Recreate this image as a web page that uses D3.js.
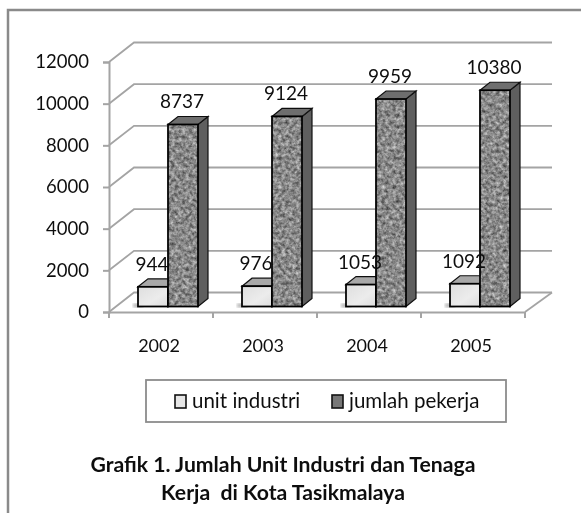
<!DOCTYPE html>
<html>
<head>
<meta charset="utf-8">
<script src="https://cdn.jsdelivr.net/npm/d3@7"></script>
<style>
html, body { margin: 0; padding: 0; background: #fff; }
svg { display: block; }
text { font-family: Lato, "Open Sans", sans-serif; fill: #111; }
</style>
</head>
<body>
<script>
var width = 581;
var height = 513;

// data
var years = ['2002', '2003', '2004', '2005'];
var unitIndustri = [944, 976, 1053, 1092];
var jumlahPekerja = [8737, 9124, 9959, 10380];
var yTicks = [0, 2000, 4000, 6000, 8000, 10000, 12000];
var seriesNames = ['unit industri', 'jumlah pekerja'];
var titleLines = ['Grafik 1. Jumlah Unit Industri dan Tenaga', 'Kerja  di Kota Tasikmalaya'];

var svg = d3.select('body').append('svg')
	.attr('width', width)
	.attr('height', height);

var defs = svg.append('defs');

// slight softening, the original is a blurry scan
defs.append('filter').attr('id', 'soft')
	.attr('x', 0).attr('y', 0).attr('width', 1).attr('height', 1)
	.append('feGaussianBlur').attr('stdDeviation', 0.4);

// granite texture of the dark bars
var granite = defs.append('filter').attr('id', 'granite')
	.attr('x', 0).attr('y', 0).attr('width', 1).attr('height', 1)
	.attr('color-interpolation-filters', 'sRGB');
granite.append('feTurbulence')
	.attr('type', 'fractalNoise')
	.attr('baseFrequency', 0.28)
	.attr('numOctaves', 3)
	.attr('seed', 7)
	.attr('result', 'noise');
granite.append('feColorMatrix')
	.attr('in', 'noise')
	.attr('type', 'matrix')
	.attr('values', '0.75 0 0 0 0.16  0.75 0 0 0 0.16  0.75 0 0 0 0.16  0 0 0 0 1')
	.attr('result', 'grey');
granite.append('feComposite')
	.attr('in', 'grey')
	.attr('in2', 'SourceGraphic')
	.attr('operator', 'in');

var lightFill = defs.append('linearGradient').attr('id', 'lightFill')
	.attr('x1', 0).attr('y1', 0).attr('x2', 1).attr('y2', 1);
lightFill.append('stop').attr('offset', 0).attr('stop-color', '#dedede');
lightFill.append('stop').attr('offset', 0.6).attr('stop-color', '#ececec');
lightFill.append('stop').attr('offset', 1).attr('stop-color', '#dcdcdc');

defs.append('filter').attr('id', 'shadowBlur')
	.append('feGaussianBlur').attr('stdDeviation', 1.5);

var root = svg.append('g').attr('filter', 'url(#soft)');

// background rect so the blur filter has something to sit on
root.append('rect').attr('width', width).attr('height', height).attr('fill', '#fff');

// frame of the chart, open at right and bottom
root.append('path')
	.attr('d', d3.line()([[8, height], [8, 10], [width, 10]]))
	.attr('fill', 'none')
	.attr('stroke', '#8a8a8a')
	.attr('stroke-width', 2.5);

// scales
var x = d3.scaleBand().domain(years).range([109, 525]);
var y = d3.scaleLinear().domain([0, 12000]).range([312, 62]);
var xInner = d3.scaleBand().domain(seriesNames).range([29, 89]);

// offset of the back wall and of the bars inside the floor
var wallDx = 25, wallDy = -19.5;
var barDy = -5.5;
var depthDx = 10, depthDy = -8;
var gridColor = '#a4a4a4';

// wall lines
var grid = root.append('g');
grid.selectAll('path')
	.data(yTicks)
	.enter()
	.append('path')
	.attr('d', function (d) {
		return d3.line()([
			[x.range()[0], y(d)],
			[x.range()[0] + wallDx, y(d) + wallDy],
			[x.range()[1] + wallDx + 2, y(d) + wallDy]
		]);
	})
	.attr('fill', 'none')
	.attr('stroke', gridColor)
	.attr('stroke-width', 1.8);

// right edge of the floor
grid.append('line')
	.attr('x1', x.range()[1]).attr('y1', y(0))
	.attr('x2', x.range()[1] + wallDx + 2).attr('y2', y(0) + wallDy)
	.attr('stroke', gridColor).attr('stroke-width', 1.8);

// y axis
var yAxis = root.append('g')
	.attr('transform', 'translate(' + x.range()[0] + ',0)')
	.call(d3.axisLeft(y).tickValues(yTicks).tickSize(6).tickPadding(14).tickFormat(d3.format('d')));
yAxis.select('.domain').attr('stroke', gridColor).attr('stroke-width', 2);
yAxis.selectAll('line').attr('stroke', gridColor).attr('stroke-width', 2);
yAxis.selectAll('text').attr('font-size', 18.5).attr('fill', '#111');

// x axis, ticks sit between the years
var xAxis = root.append('g')
	.attr('transform', 'translate(0,' + y(0) + ')')
	.call(d3.axisBottom(x).tickSize(0).tickPadding(27));
xAxis.select('.domain').attr('stroke', gridColor).attr('stroke-width', 2);
xAxis.selectAll('text')
	.attr('font-size', 18)
	.attr('fill', '#111')
	.attr('dx', -2);
xAxis.selectAll('line.edge')
	.data(years.concat(['end']))
	.enter()
	.append('line')
	.attr('class', 'edge')
	.attr('x1', function (d, i) { return i < years.length ? x(d) : x.range()[1]; })
	.attr('x2', function (d, i) { return i < years.length ? x(d) : x.range()[1]; })
	.attr('y1', 0)
	.attr('y2', 6)
	.attr('stroke', gridColor)
	.attr('stroke-width', 2);

// one 3d bar
function drawBar(g, year, name, value, dark) {
	var x0 = x(year) + xInner(name);
	var x1 = x0 + xInner.bandwidth();
	var yb = y(0) + barDy;
	var yt = y(value) + barDy;

	if (!dark) {
		// little shadow on the floor
		g.append('rect')
			.attr('x', x0 - 5).attr('y', yb - 3)
			.attr('width', 10).attr('height', 4)
			.attr('fill', '#b5b5b5')
			.attr('filter', 'url(#shadowBlur)');
	}

	// side
	g.append('path')
		.attr('d', d3.line()([[x1, yb], [x1 + depthDx, yb + depthDy], [x1 + depthDx, yt + depthDy], [x1, yt]]) + 'Z')
		.attr('fill', dark ? '#5e5e5e' : '#a0a0a0')
		.attr('stroke', '#111')
		.attr('stroke-width', 1.2);
	// top
	g.append('path')
		.attr('d', d3.line()([[x0, yt], [x0 + depthDx, yt + depthDy], [x1 + depthDx, yt + depthDy], [x1, yt]]) + 'Z')
		.attr('fill', dark ? '#6e6e6e' : '#a8a8a8')
		.attr('stroke', '#111')
		.attr('stroke-width', 1.2);
	// front
	g.append('rect')
		.attr('x', x0).attr('y', yt)
		.attr('width', x1 - x0).attr('height', yb - yt)
		.attr('fill', dark ? '#888' : 'url(#lightFill)')
		.attr('filter', dark ? 'url(#granite)' : null);
	g.append('rect')
		.attr('x', x0).attr('y', yt)
		.attr('width', x1 - x0).attr('height', yb - yt)
		.attr('fill', 'none')
		.attr('stroke', '#050505')
		.attr('stroke-width', 1.8);
}

var bars = root.append('g');
years.forEach(function (year, i) {
	drawBar(bars, year, seriesNames[0], unitIndustri[i], false);
	drawBar(bars, year, seriesNames[1], jumlahPekerja[i], true);
});

// value labels go over the bars
var labels = root.append('g')
	.attr('text-anchor', 'middle')
	.attr('font-size', 19);
function drawLabels(name, values) {
	labels.selectAll('text.s' + seriesNames.indexOf(name))
		.data(values)
		.enter()
		.append('text')
		.attr('class', 's' + seriesNames.indexOf(name))
		.attr('x', function (d, i) { return x(years[i]) + xInner(name) + xInner.bandwidth() / 2 - 1; })
		.attr('y', function (d) { return y(d) + barDy - 16; })
		.text(function (d) { return d; });
}
drawLabels(seriesNames[0], unitIndustri);
drawLabels(seriesNames[1], jumlahPekerja);

// legend
var legend = root.append('g');
legend.append('rect')
	.attr('x', 146).attr('y', 380)
	.attr('width', 360).attr('height', 42)
	.attr('fill', '#fff')
	.attr('stroke', '#8c8c8c')
	.attr('stroke-width', 1.8);
var legendX = [175, 332];
seriesNames.forEach(function (name, i) {
	legend.append('rect')
		.attr('x', legendX[i]).attr('y', 395)
		.attr('width', 11).attr('height', 13)
		.attr('fill', i ? '#777' : '#e6e6e6')
		.attr('stroke', '#111')
		.attr('stroke-width', 1.6);
	legend.append('text')
		.attr('x', legendX[i] + 17).attr('y', 408)
		.attr('font-size', 20.5)
		.attr('fill', '#222')
		.text(name);
});

// title under the chart
root.append('g')
	.attr('text-anchor', 'middle')
	.attr('font-size', 21.2)
	.attr('font-weight', 700)
	.selectAll('text')
	.data(titleLines)
	.enter()
	.append('text')
	.attr('x', 283)
	.attr('y', function (d, i) { return 472 + i * 28; })
	.attr('xml:space', 'preserve')
	.text(function (d) { return d; });
</script>
</body>
</html>
